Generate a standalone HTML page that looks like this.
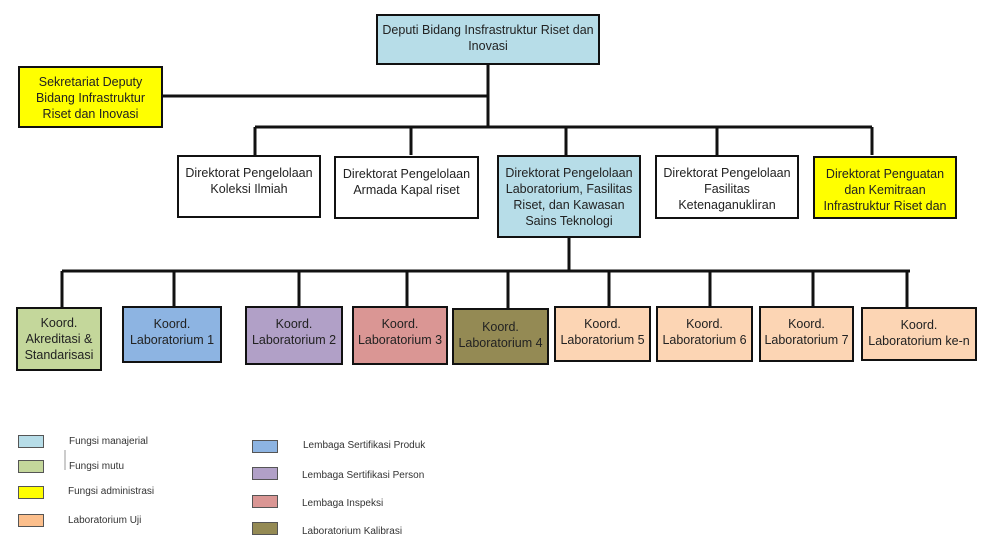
<!DOCTYPE html>
<html><head><meta charset="utf-8"><style>
body{margin:0;width:989px;height:556px;background:#fff;position:relative;overflow:hidden;font-family:"Liberation Sans",sans-serif;}
.b{position:absolute;box-sizing:border-box;border:2px solid #111;display:flex;align-items:flex-start;justify-content:center;text-align:center;font-size:12.5px;line-height:16px;color:#222;padding-top:6px;}
.s{position:absolute;box-sizing:border-box;border:1.5px solid #555;width:26px;height:13px;}
.l{position:absolute;font-size:10px;color:#333;}
svg{position:absolute;left:0;top:0;}
</style></head><body>
<svg width="989" height="556"><g stroke="#111" stroke-width="3" fill="none">
<path d="M488 65V127M162 96H488M255 127H872M255 127V155M411 127V155M566 127V155M717 127V155M872 127V155"/>
<path d="M569 238V271M62 271H910M62 271V307M174 271V306M299 271V306M407 271V306M508 271V308M609 271V306M710 271V306M813 271V306M907 271V307"/>
</g><path d="M65 450V470" stroke="#999" stroke-width="1"/></svg>
<div class="b" style="left:376px;top:14px;width:224px;height:51px;background:#b7dde8;">Deputi Bidang Insfrastruktur Riset dan<br>Inovasi</div>
<div class="b" style="left:18px;top:66px;width:145px;height:62px;background:#ffff00;">Sekretariat Deputy<br>Bidang Infrastruktur<br>Riset dan Inovasi</div>
<div class="b" style="left:177px;top:155px;width:144px;height:63px;background:#fff;padding-top:8px">Direktorat Pengelolaan<br>Koleksi Ilmiah</div>
<div class="b" style="left:334px;top:156px;width:145px;height:63px;background:#fff;padding-top:8px">Direktorat Pengelolaan<br>Armada Kapal riset</div>
<div class="b" style="left:497px;top:155px;width:144px;height:83px;background:#b7dde8;padding-top:8px">Direktorat Pengelolaan<br>Laboratorium, Fasilitas<br>Riset, dan Kawasan<br>Sains Teknologi</div>
<div class="b" style="left:655px;top:155px;width:144px;height:64px;background:#fff;padding-top:8px">Direktorat Pengelolaan<br>Fasilitas<br>Ketenaganukliran</div>
<div class="b" style="left:813px;top:156px;width:144px;height:63px;background:#ffff00;padding-top:8px">Direktorat Penguatan<br>dan Kemitraan<br>Infrastruktur Riset dan</div>
<div class="b" style="left:16px;top:307px;width:86px;height:64px;background:#c4d79b;padding-top:6px">Koord.<br>Akreditasi &amp;<br>Standarisasi</div>
<div class="b" style="left:122px;top:306px;width:100px;height:57px;background:#8db4e2;padding-top:8px">Koord.<br>Laboratorium 1</div>
<div class="b" style="left:245px;top:306px;width:98px;height:59px;background:#b1a0c7;padding-top:8px">Koord.<br>Laboratorium 2</div>
<div class="b" style="left:352px;top:306px;width:96px;height:59px;background:#da9694;padding-top:8px">Koord.<br>Laboratorium 3</div>
<div class="b" style="left:452px;top:308px;width:97px;height:57px;background:#948a54;padding-top:9px">Koord.<br>Laboratorium 4</div>
<div class="b" style="left:554px;top:306px;width:97px;height:56px;background:#fcd5b4;padding-top:8px">Koord.<br>Laboratorium 5</div>
<div class="b" style="left:656px;top:306px;width:97px;height:56px;background:#fcd5b4;padding-top:8px">Koord.<br>Laboratorium 6</div>
<div class="b" style="left:759px;top:306px;width:95px;height:56px;background:#fcd5b4;padding-top:8px">Koord.<br>Laboratorium 7</div>
<div class="b" style="left:861px;top:307px;width:116px;height:54px;background:#fcd5b4;padding-top:8px">Koord.<br>Laboratorium ke-n</div>
<div class="s" style="left:18px;top:435px;background:#b7dde8"></div><div class="l" style="left:69px;top:436px">Fungsi manajerial</div>
<div class="s" style="left:18px;top:460px;background:#c4d79b"></div><div class="l" style="left:69px;top:461px">Fungsi mutu</div>
<div class="s" style="left:18px;top:486px;background:#ffff00"></div><div class="l" style="left:68px;top:486px">Fungsi administrasi</div>
<div class="s" style="left:18px;top:514px;background:#fcbf8c"></div><div class="l" style="left:68px;top:515px">Laboratorium Uji</div>
<div class="s" style="left:252px;top:440px;background:#8db4e2"></div><div class="l" style="left:303px;top:440px">Lembaga Sertifikasi Produk</div>
<div class="s" style="left:252px;top:467px;background:#b1a0c7"></div><div class="l" style="left:302px;top:470px">Lembaga Sertifikasi Person</div>
<div class="s" style="left:252px;top:495px;background:#da9694"></div><div class="l" style="left:302px;top:498px">Lembaga Inspeksi</div>
<div class="s" style="left:252px;top:522px;background:#948a54"></div><div class="l" style="left:302px;top:526px">Laboratorium Kalibrasi</div>
</body></html>
